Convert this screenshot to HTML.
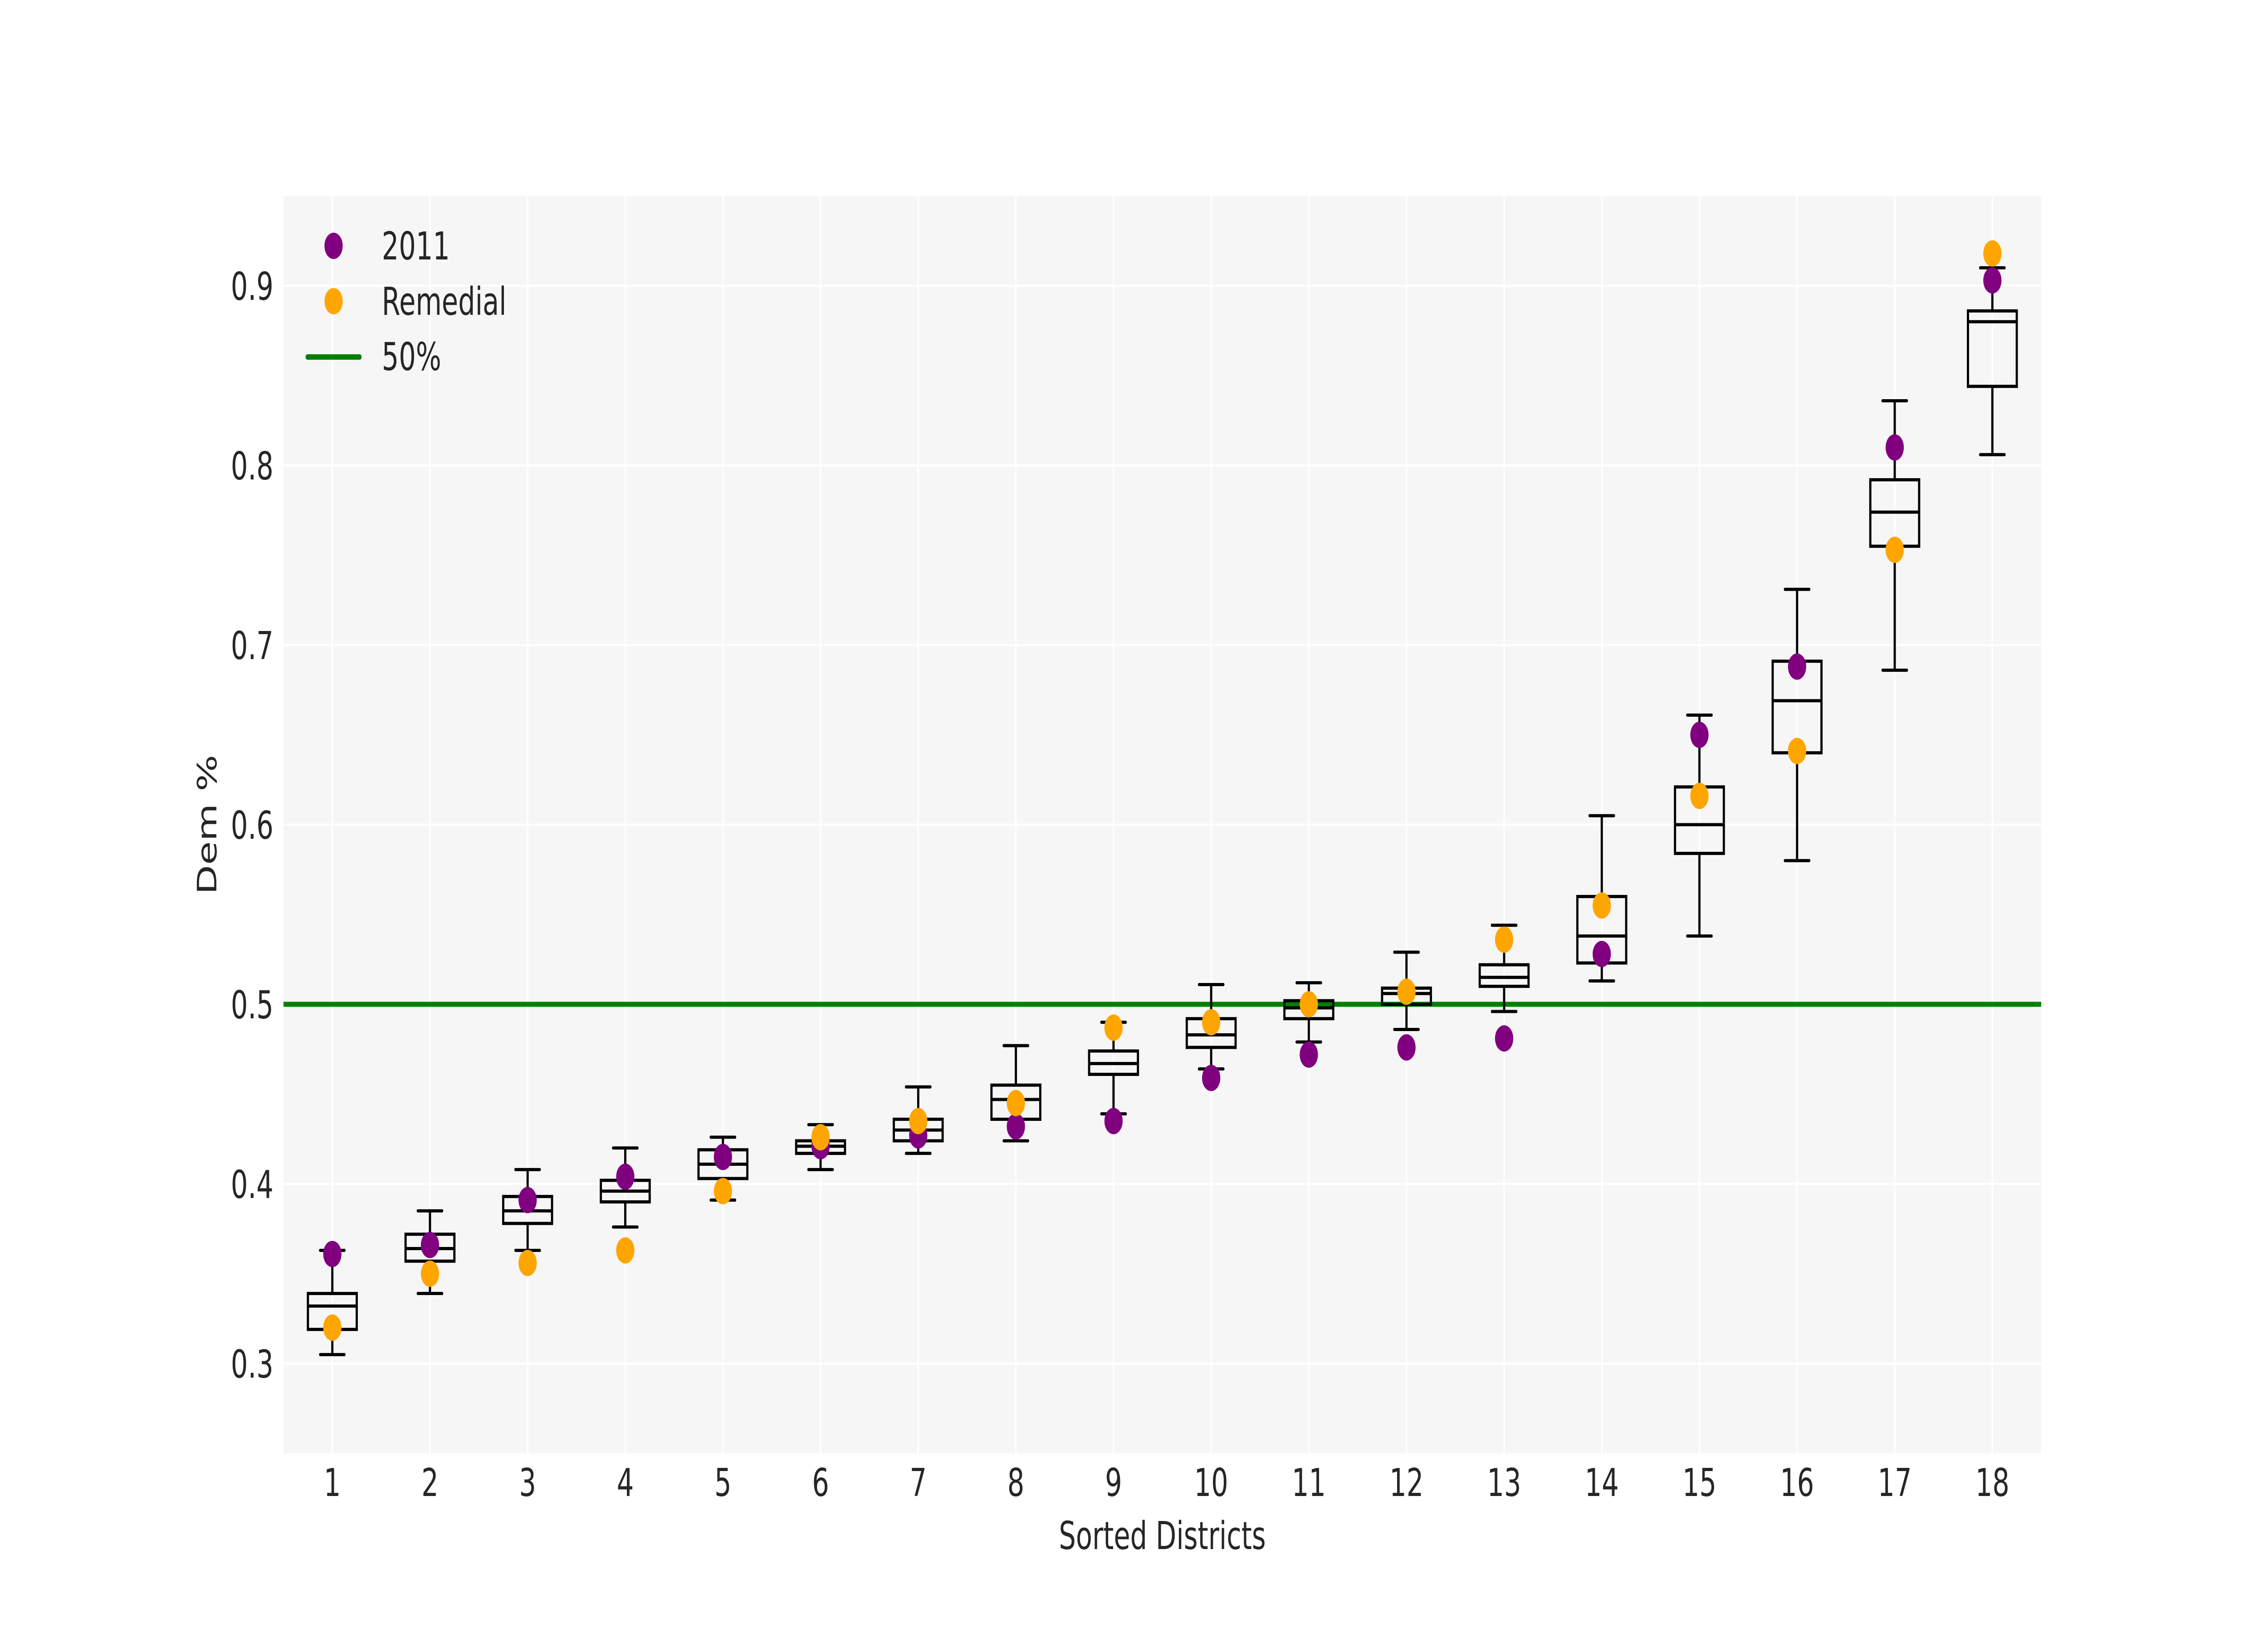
<!DOCTYPE html>
<html><head><meta charset="utf-8"><style>
html,body{margin:0;padding:0;background:#fff;width:100%;height:100%;overflow:hidden;}
svg{display:block;position:fixed;left:0;top:0;width:100vw;height:100vh;}
text{font-family:"DejaVu Sans","Liberation Sans",sans-serif;fill:#262626;}
</style></head><body>
<svg id="chart" viewBox="0 0 7200 3600" preserveAspectRatio="none" xmlns="http://www.w3.org/2000/svg">
<rect x="0" y="0" width="7200" height="3600" fill="#ffffff"/>
<rect x="900" y="432" width="5580" height="2772" fill="#f6f6f6"/>
<g id="grid"></g>
<g id="marks"></g>
<g id="axes"></g>
<g id="legend">
  <circle cx="1059" cy="542" r="29" fill="#800080"/>
  <text x="1212" y="572" font-size="85">2011</text>
  <circle cx="1059" cy="664" r="29" fill="#ffa500"/>
  <text x="1212" y="694" font-size="85">Remedial</text>
  <line x1="976" y1="787" x2="1142" y2="787" stroke="#008000" stroke-width="12" stroke-linecap="round"/>
  <text x="1212" y="816" font-size="85">50%</text>
</g>
<text x="3690" y="3415" font-size="85" text-anchor="middle">Sorted Districts</text>
<text x="0" y="0" font-size="85" text-anchor="middle" transform="translate(687,1818) rotate(-90)">Dem %</text>
</svg>
<script>
const districts = [1,2,3,4,5,6,7,8,9,10,11,12,13,14,15,16,17,18];
const whiskerLow  = [0.305,0.339,0.363,0.376,0.391,0.408,0.417,0.424,0.439,0.464,0.479,0.486,0.496,0.513,0.538,0.580,0.686,0.806];
const q1          = [0.319,0.357,0.378,0.390,0.403,0.417,0.424,0.436,0.461,0.476,0.492,0.500,0.510,0.523,0.584,0.640,0.755,0.844];
const medians     = [0.332,0.364,0.385,0.396,0.411,0.421,0.430,0.447,0.467,0.483,0.498,0.506,0.515,0.538,0.600,0.669,0.774,0.880];
const q3          = [0.339,0.372,0.393,0.402,0.419,0.424,0.436,0.455,0.474,0.492,0.502,0.509,0.522,0.560,0.621,0.691,0.792,0.886];
const whiskerHigh = [0.363,0.385,0.408,0.420,0.426,0.433,0.454,0.477,0.490,0.511,0.512,0.529,0.544,0.605,0.661,0.731,0.836,0.910];
const plan2011    = [0.361,0.366,0.391,0.404,0.415,0.421,0.427,0.432,0.435,0.459,0.472,0.476,0.481,0.528,0.650,0.688,0.810,0.903];
const remedial    = [0.320,0.350,0.356,0.363,0.396,0.426,0.435,0.445,0.487,0.490,0.500,0.507,0.536,0.555,0.616,0.641,0.753,0.918];
const yTicks = [0.3,0.4,0.5,0.6,0.7,0.8,0.9];
const yTickLabels = ["0.3","0.4","0.5","0.6","0.7","0.8","0.9"];
const thresholdValue = 0.5;

const L=900,R=6480,T=432,B=3204, XMIN=0.5,XMAX=18.5,YMIN=0.25,YMAX=0.95;
function sx(v){return L+(v-XMIN)/(XMAX-XMIN)*(R-L);}
function sy(v){return B-(v-YMIN)/(YMAX-YMIN)*(B-T);}
const NS='http://www.w3.org/2000/svg';
function mk(tag,attrs,parent){const e=document.createElementNS(NS,tag);for(const k in attrs)e.setAttribute(k,attrs[k]);parent.appendChild(e);return e;}
const grid=document.getElementById('grid'),marks=document.getElementById('marks'),axes=document.getElementById('axes');

yTicks.forEach((t,i)=>{
  const g=mk('line',{x1:L,x2:R,y1:sy(t),y2:sy(t),stroke:'#ffffff','stroke-width':5},grid);
  
  
  const tx=mk('text',{x:868,y:sy(t)+31,'font-size':85,'text-anchor':'end'},axes);
  tx.textContent=yTickLabels[i];
  
  
});
districts.forEach(d=>{
  const g=mk('line',{x1:sx(d),x2:sx(d),y1:T,y2:B,stroke:'#ffffff','stroke-width':5},grid);
  
  
  const tx=mk('text',{x:sx(d),y:3298,'font-size':85,'text-anchor':'middle'},axes);
  tx.textContent=String(d);
  
  
});

const hl=mk('line',{x1:L,x2:R,y1:sy(thresholdValue),y2:sy(thresholdValue),stroke:'#008000','stroke-width':11},marks);



const hw=0.25, cw=0.125, sw=7;
districts.forEach((d,i)=>{
  const g=mk('g',{},marks);
  
  
  const x=sx(d);
  mk('line',{x1:x,x2:x,y1:sy(whiskerLow[i]),y2:sy(q1[i]),stroke:'#000','stroke-width':sw},g);
  mk('line',{x1:x,x2:x,y1:sy(q3[i]),y2:sy(whiskerHigh[i]),stroke:'#000','stroke-width':sw},g);
  mk('line',{x1:sx(d-cw),x2:sx(d+cw),y1:sy(whiskerLow[i]),y2:sy(whiskerLow[i]),stroke:'#000','stroke-width':sw,'stroke-linecap':'round'},g);
  mk('line',{x1:sx(d-cw),x2:sx(d+cw),y1:sy(whiskerHigh[i]),y2:sy(whiskerHigh[i]),stroke:'#000','stroke-width':sw,'stroke-linecap':'round'},g);
  mk('rect',{x:sx(d-hw),y:sy(q3[i]),width:sx(d+hw)-sx(d-hw),height:sy(q1[i])-sy(q3[i]),fill:'none',stroke:'#000','stroke-width':sw},g);
  mk('line',{x1:sx(d-hw),x2:sx(d+hw),y1:sy(medians[i]),y2:sy(medians[i]),stroke:'#000','stroke-width':sw},g);
});
districts.forEach((d,i)=>{
  const c=mk('circle',{cx:sx(d),cy:sy(plan2011[i]),r:29,fill:'#800080'},marks);
  
  
});
districts.forEach((d,i)=>{
  const c=mk('circle',{cx:sx(d),cy:sy(remedial[i]),r:29,fill:'#ffa500'},marks);
  
  
});
</script>
</body></html>
